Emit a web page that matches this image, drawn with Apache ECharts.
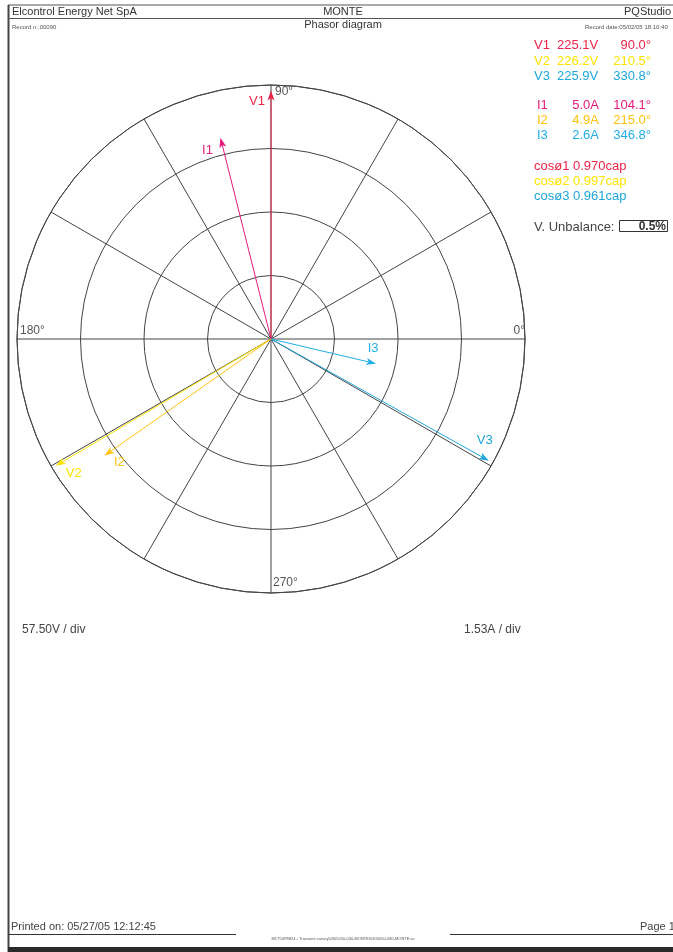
<!DOCTYPE html>
<html>
<head>
<meta charset="utf-8">
<script src="https://cdn.jsdelivr.net/npm/echarts@6/dist/echarts.min.js"></script>
<style>
  html, body { margin: 0; padding: 0; background: #fff; }
  #chart { width: 673px; height: 952px; }
</style>
</head>
<body>
<div id="chart"></div>
<script>
  // phasor readings
  const phasorNames = ['V1', 'V2', 'V3', 'I1', 'I2', 'I3']
  const magnitudes = [225.1, 226.2, 225.9, 5.0, 4.9, 2.6]
  const units = ['V', 'V', 'V', 'A', 'A', 'A']
  const angles = [90.0, 210.5, 330.8, 104.1, 215.0, 346.8]
  const powerFactors = ['0.970cap', '0.997cap', '0.961cap']
  const unbalance = '0.5%'
  const voltsPerDiv = 57.50
  const ampsPerDiv = 1.53
  const angleLabels = [0, 90, 180, 270]

  const colors = ['#ec2448', '#fbe400', '#1fa6d8', '#e8197e', '#ffc20e', '#22aee5']
  const cosColors = ['#ec2448', '#fbe400', '#1fa6d8']
  // label offset from arrow tip
  const labelOffsets = [[-14, 11], [18, 8], [-4, -20], [-13, 13], [15, 7], [-3, -15]]
  const angleLabelStyle = {
    0: { dx: 0, dy: -8, align: 'right' },
    90: { dx: 4, dy: 7, align: 'left' },
    180: { dx: 3, dy: -8, align: 'left' },
    270: { dx: 2, dy: -10, align: 'left' }
  }

  const grey = '#444'
  const font = 'Liberation Sans, Arial, sans-serif'

  const phasorData = phasorNames.map((n, i) => ({
    name: n,
    value: [magnitudes[i] / (units[i] === 'V' ? voltsPerDiv : ampsPerDiv), angles[i]]
  }))

  function txt (text, x, y, size, color, align, extra) {
    return Object.assign({
      type: 'text',
      style: {
        text: text, x: x, y: y,
        font: (extra && extra.bold ? 'bold ' : '') + size + 'px ' + font,
        fill: color,
        textAlign: align || 'left',
        textVerticalAlign: 'middle'
      }
    }, extra && extra.z ? { z: extra.z } : {})
  }
  function line (x1, y1, x2, y2, color, w) {
    return { type: 'line', shape: { x1, y1, x2, y2 }, style: { stroke: color, lineWidth: w || 1 } }
  }

  const graphics = [
    // frame
    line(8, 5, 673, 5, '#555', 1),
    line(8.5, 5, 8.5, 952, '#444', 2),
    line(8, 18.5, 673, 18.5, '#555', 1),
    txt('Elcontrol Energy Net SpA', 12, 12, 11, '#333'),
    txt('MONTE', 343, 12, 11, '#333', 'center'),
    txt('PQStudio', 624, 12, 11, '#333'),
    txt('Record n.:00090', 12, 27, 6, '#555'),
    txt('Phasor diagram', 343, 25, 11, '#333', 'center'),
    txt('Record date:05/02/05 18:10:40', 585, 27, 6, '#555'),
    // scales
    txt(voltsPerDiv.toFixed(2) + 'V / div', 22, 630, 12, '#444'),
    txt(ampsPerDiv.toFixed(2) + 'A / div', 464, 630, 12, '#444'),
    // footer
    txt('Printed on: 05/27/05 12:12:45', 11, 927, 11, '#444'),
    txt('Page 1', 640, 927, 11, '#444'),
    line(8, 934.5, 236, 934.5, '#333', 1),
    line(450, 934.5, 673, 934.5, '#333', 1),
    txt('M1T50P8824 - Transient survey\\0305050-030-MONTE\\0305050-080-MONTE.sv', 343, 939, 4, '#555', 'center'),
    { type: 'rect', shape: { x: 8, y: 947, width: 665, height: 5 }, style: { fill: '#2a2a2a' } }
  ]

  // readings panel
  const rowY = [45, 61, 76, 105, 120, 135]
  phasorNames.forEach((n, i) => {
    const isV = units[i] === 'V'
    graphics.push(txt(n, isV ? 534 : 537, rowY[i], 13, colors[i]))
    if (isV) {
      graphics.push(txt(magnitudes[i].toFixed(1) + units[i], 557, rowY[i], 13, colors[i]))
    } else {
      graphics.push(txt(magnitudes[i].toFixed(1) + units[i], 599, rowY[i], 13, colors[i], 'right'))
    }
    graphics.push(txt(angles[i].toFixed(1) + '°', 651, rowY[i], 13, colors[i], 'right'))
  })
  powerFactors.forEach((pf, i) => {
    graphics.push(txt('cosø' + (i + 1) + ' ' + pf, 534, 166 + i * 15, 13, cosColors[i]))
  })
  graphics.push(txt('V. Unbalance:', 534, 227, 13, '#444'))
  graphics.push({ type: 'rect', shape: { x: 619.5, y: 220.5, width: 48, height: 11 }, style: { fill: 'none', stroke: '#333', lineWidth: 1 } })
  graphics.push(txt(unbalance, 666, 227, 12, '#333', 'right', { bold: true }))

  const chart = echarts.init(document.getElementById('chart'))

  chart.setOption({
    backgroundColor: '#fff',
    animation: false,
    textStyle: { fontFamily: font },
    polar: { center: [271, 339], radius: 254 },
    angleAxis: {
      type: 'value',
      min: 0,
      max: 360,
      interval: 30,
      startAngle: 0,
      clockwise: false,
      axisLine: { lineStyle: { color: grey, width: 1 } },
      axisTick: { show: false },
      axisLabel: { show: false },
      splitLine: { lineStyle: { color: grey, width: 1 } }
    },
    radiusAxis: {
      type: 'value',
      min: 0,
      max: 4,
      interval: 1,
      axisLine: { show: false },
      axisTick: { show: false },
      axisLabel: { show: false },
      splitLine: { lineStyle: { color: grey, width: 1 } }
    },
    graphic: graphics,
    series: [{
      type: 'custom',
      coordinateSystem: 'polar',
      data: angleLabels.map(a => [4, a]),
      renderItem (params, api) {
        const a = api.value(1)
        const p = api.coord([api.value(0), a])
        const s = angleLabelStyle[a]
        return {
          type: 'text',
          style: {
            text: a + '°', x: p[0] + s.dx, y: p[1] + s.dy,
            font: '12px ' + font, fill: '#555',
            textAlign: s.align, textVerticalAlign: 'middle'
          }
        }
      }
    }, {
      type: 'custom',
      coordinateSystem: 'polar',
      data: phasorData,
      z: 5,
      renderItem (params, api) {
        const i = params.dataIndex
        const a = api.value(1)
        const p0 = api.coord([0, a])
        const p1 = api.coord([api.value(0), a])
        const dx = p1[0] - p0[0]
        const dy = p1[1] - p0[1]
        const len = Math.hypot(dx, dy)
        const ux = dx / len
        const uy = dy / len
        const hl = 10
        const hw = 3.5
        const bx = p1[0] - ux * hl
        const by = p1[1] - uy * hl
        const nx = p1[0] - ux * hl * 0.75
        const ny = p1[1] - uy * hl * 0.75
        const c = colors[i]
        const off = labelOffsets[i]
        return {
          type: 'group',
          children: [{
            type: 'line',
            shape: { x1: p0[0], y1: p0[1], x2: nx, y2: ny },
            style: { stroke: c, lineWidth: 1 }
          }, {
            type: 'polygon',
            shape: { points: [p1, [bx - uy * hw, by + ux * hw], [nx, ny], [bx + uy * hw, by - ux * hw]] },
            style: { fill: c }
          }, {
            type: 'text',
            style: {
              text: phasorNames[i], x: p1[0] + off[0], y: p1[1] + off[1],
              font: '13px ' + font, fill: c,
              textAlign: 'center', textVerticalAlign: 'middle'
            }
          }]
        }
      }
    }]
  })
</script>
</body>
</html>
